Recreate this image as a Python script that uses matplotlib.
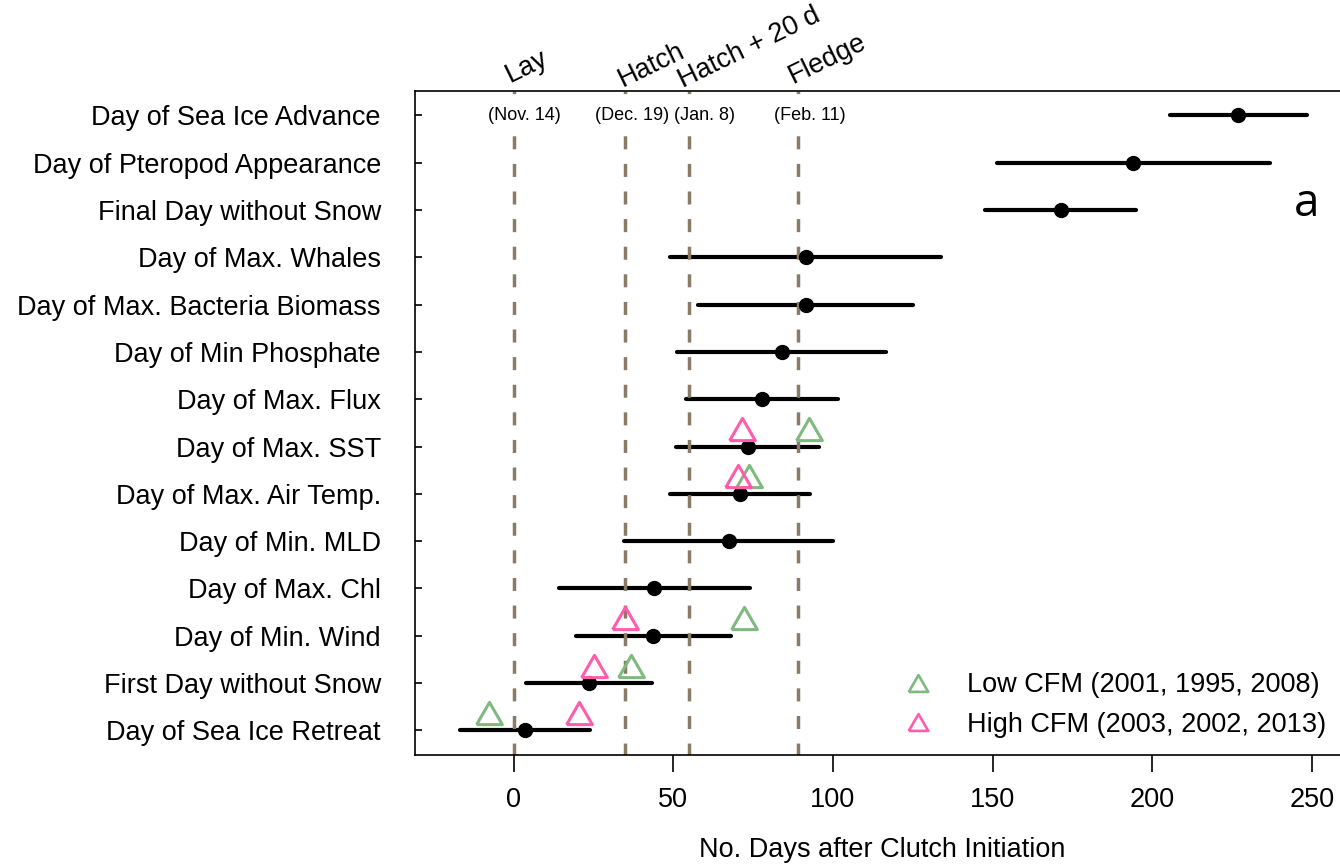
import numpy as np
import matplotlib
matplotlib.use("Agg")
import matplotlib.pyplot as plt
from matplotlib.lines import Line2D
import matplotlib.transforms as mtransforms

plt.rcParams['font.family'] = ['Liberation Sans', 'DejaVu Sans']

# ---------------- data (top row to bottom row) ----------------
categories = [
    "Day of Sea Ice Advance",
    "Day of Pteropod Appearance",
    "Final Day without Snow",
    "Day of Max. Whales",
    "Day of Max. Bacteria Biomass",
    "Day of Min Phosphate",
    "Day of Max. Flux",
    "Day of Max. SST",
    "Day of Max. Air Temp.",
    "Day of Min. MLD",
    "Day of Max. Chl",
    "Day of Min. Wind",
    "First Day without Snow",
    "Day of Sea Ice Retreat",
]
means = [226.9, 194.1, 171.4, 91.5, 91.4, 84.0, 77.9, 73.3, 70.9, 67.4, 44.0, 43.7, 23.6, 3.5]
lower = [205.4, 151.3, 147.7, 49.1, 57.7, 51.3, 54.1, 50.9, 49.0, 34.6, 14.3, 19.5, 3.8, -16.8]
upper = [248.3, 236.8, 195.0, 133.9, 125.0, 116.6, 101.6, 95.5, 92.7, 100.0, 73.9, 68.0, 43.3, 23.8]
nan = np.nan
low_cfm = [nan, nan, nan, nan, nan, nan, nan, 92.5, 73.7, nan, nan, 72.2, 36.8, -7.7]
high_cfm = [nan, nan, nan, nan, nan, nan, nan, 71.6, 70.2, nan, nan, 35.0, 25.3, 20.5]

stage_names = ["Lay", "Hatch", "Hatch + 20 d", "Fledge"]
stage_days = [0, 35, 55, 89]
stage_dates = ["(Nov. 14)", "(Dec. 19)", "(Jan. 8)", "(Feb. 11)"]
xticks = [0, 50, 100, 150, 200, 250]
legend_labels = ["Low CFM (2001, 1995, 2008)", "High CFM (2003, 2002, 2013)"]

# ---------------- styles ----------------
green = "#7FB97F"
pink = "#FF5CAB"
dash_color = "#8A7A66"
tri = [(-1, -0.866), (1, -0.866), (0, 0.866), (-1, -0.866)]
FS = 19.5

fig = plt.figure(figsize=(13.4, 8.65), dpi=100)
xmin, xmax = -31, 262
ax = fig.add_axes([414.7 / 1340, 0.12717, (xmax - xmin) * 3.193 / 1340, 0.76798])
ylo, yhi = 0.48, 14.52
ax.set_xlim(xmin, xmax)
ax.set_ylim(ylo, yhi)
ax.spines['right'].set_visible(False)

n = len(categories)
ys = np.arange(n, 0, -1)

ax.hlines(ys, lower, upper, color='black', lw=3.0, capstyle='round', zorder=2)

for d in stage_days:
    ax.plot([d, d], [yhi, ylo], color=dash_color, lw=2.5,
            linestyle=(3.0, (3.75, 4.2)), dash_capstyle='butt', zorder=2.2)

ax.plot(means, ys, 'o', color='black', ms=10, zorder=3)
ax.plot(low_cfm, ys + 0.37, marker=tri, ls='none', mfc='none', mec=green,
        ms=18.5, mew=2.2, zorder=4)
ax.plot(high_cfm, ys + 0.37, marker=tri, ls='none', mfc='none', mec=pink,
        ms=18.5, mew=2.2, zorder=4)

# date labels (with white background hiding the dashes)
date_offsets = [3.4, 2.0, 4.8, 3.8]
for d, off, lab in zip(stage_days, date_offsets, stage_dates):
    ax.text(d + off, ys[0], lab, ha='center', va='center', fontsize=13,
            bbox=dict(fc='white', ec='none', pad=1.5), zorder=5)

# rotated stage names above the plot
trans = mtransforms.blended_transform_factory(ax.transData, ax.transAxes)
name_x_offsets = [-1.2, -0.7, -1.9, -1.4]
name_y = [1.012, 1.006, 1.0036, 1.011]
for d, off, yy, lab in zip(stage_days, name_x_offsets, name_y, stage_names):
    ax.text(d + off, yy, lab, rotation=26, rotation_mode='anchor',
            ha='left', va='baseline', fontsize=19.5, transform=trans, clip_on=False)

ax.set_yticks(ys)
ax.set_yticklabels(categories)
ax.set_xticks(xticks)
ax.tick_params(axis='y', direction='in', length=5, width=1.2, pad=24.3, labelsize=FS)
ax.tick_params(axis='x', direction='out', length=12, width=1.2, pad=11, labelsize=FS)
for s in ax.spines.values():
    s.set_linewidth(1.2)
ax.set_xlabel("No. Days after Clutch Initiation", fontsize=FS, labelpad=17)

fig.text(1306.7 / 1340, 1 - 204 / 865, 'a', fontsize=33, family='Open Sans',
         ha='center', va='center')

handles = [Line2D([], [], marker=tri, ls='none', mfc='none', mec=c, ms=14, mew=1.9)
           for c in (green, pink)]
fig.legend(handles, legend_labels, loc='center left',
           bbox_to_anchor=(904.2 / 1340, 1 - 705 / 865), frameon=False,
           fontsize=FS, handlelength=1.0, handletextpad=1.32, borderpad=0,
           borderaxespad=0, labelspacing=0.5)

fig.savefig("out.png", dpi=100)
